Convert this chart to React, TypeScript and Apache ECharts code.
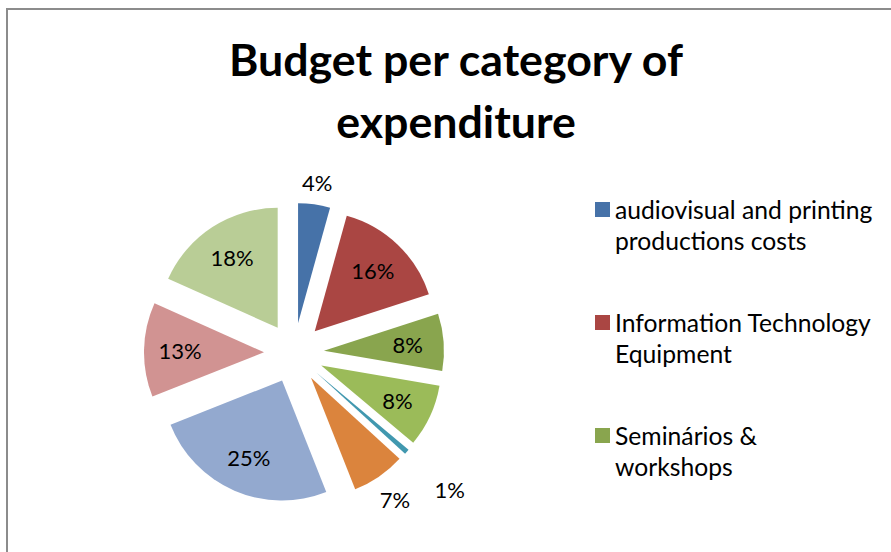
import React, { useEffect, useRef } from "react";
import * as echarts from "echarts";

const categories = [
  "audiovisual and printing productions costs",
  "Information Technology Equipment",
  "Seminários & workshops",
  "Category 4",
  "Category 5",
  "Category 6",
  "Category 7",
  "Category 8",
  "Category 9",
];
const values = [4.3, 15.7, 7.7, 8.4, 0.7, 7.2, 25.0, 12.7, 18.3];
const colors = ["#4672A8", "#AA4643", "#89A54E", "#9BBB59", "#4198AF", "#DB843D", "#93A9CF", "#D19392", "#B9CD96"];
const legendNames = categories.slice(0, 3);
const legendLabels = [
  ["audiovisual and printing", "productions costs"],
  ["Information Technology", "Equipment"],
  ["Seminários &", "workshops"],
];
const titleText = "Budget per category of\nexpenditure";

const FONT = "Lato, 'Noto Sans', sans-serif";
const CENTER = [294, 353];
const R = 120;
const OFFSET = 30;

function pieSeries(id: string, radius: number[], labelled: number[], visible: boolean) {
  return {
    type: "pie",
    id,
    center: CENTER,
    radius,
    startAngle: 90,
    clockwise: true,
    selectedMode: "multiple",
    selectedOffset: OFFSET,
    silent: true,
    avoidLabelOverlap: false,
    z: visible ? 2 : 3,
    label: {
      show: true,
      position: "inside",
      fontFamily: FONT,
      fontSize: 22,
      color: "#000",
      formatter: (p: any) => Math.round(p.value) + "%",
    },
    labelLine: { show: false },
    emphasis: { disabled: true },
    select: { itemStyle: {} },
    data: values.map((v, i) => ({
      name: categories[i],
      value: v,
      selected: true,
      itemStyle: { color: visible ? colors[i] : "rgba(0,0,0,0)", borderWidth: 0 },
      label: { show: labelled.includes(i) },
    })),
  };
}

export default function App() {
  const ref = useRef<HTMLDivElement>(null);
  useEffect(() => {
    if (!ref.current) return;
    const chart = echarts.init(ref.current, null, { renderer: "svg" });
    chart.setOption({
      animation: false,
      backgroundColor: "#fff",
      title: {
        text: titleText,
        left: 456,
        top: 28,
        padding: 0,
        textAlign: "center",
        textStyle: { fontFamily: FONT, fontWeight: "bold", fontSize: 44.7, lineHeight: 62, color: "#000" },
      },
      legend: {
        data: legendNames,
        orient: "vertical",
        left: 595,
        top: 163,
        padding: 0,
        itemWidth: 15,
        itemHeight: 15,
        itemGap: 20,
        icon: "rect",
        selectedMode: false,
        formatter: (name: string) => {
          const l = legendLabels[legendNames.indexOf(name)];
          return " \n" + l[0] + "\n" + l[1];
        },
        textStyle: { fontFamily: FONT, fontSize: 24.7, color: "#000", lineHeight: 31 },
      },
      graphic: [
        {
          type: "rect",
          shape: { x: 7, y: 9, width: 1000, height: 1000 },
          style: { fill: "none", stroke: "#8c8c8c", lineWidth: 2 },
          silent: true,
        },
      ],
      series: [
        pieSeries("main", [0, R], [], true),
        pieSeries("inner", [42, R], [1, 2, 3, 6, 7, 8], false),
        pieSeries("o4", [R, 158], [0], false),
        pieSeries("o7", [R, 170], [5], false),
        pieSeries("o1", [R, 228], [4], false),
      ],
    });
    return () => chart.dispose();
  }, []);
  return <div ref={ref} style={{ position: "fixed", left: 0, top: 0, width: 891, height: 552 }} />;
}
